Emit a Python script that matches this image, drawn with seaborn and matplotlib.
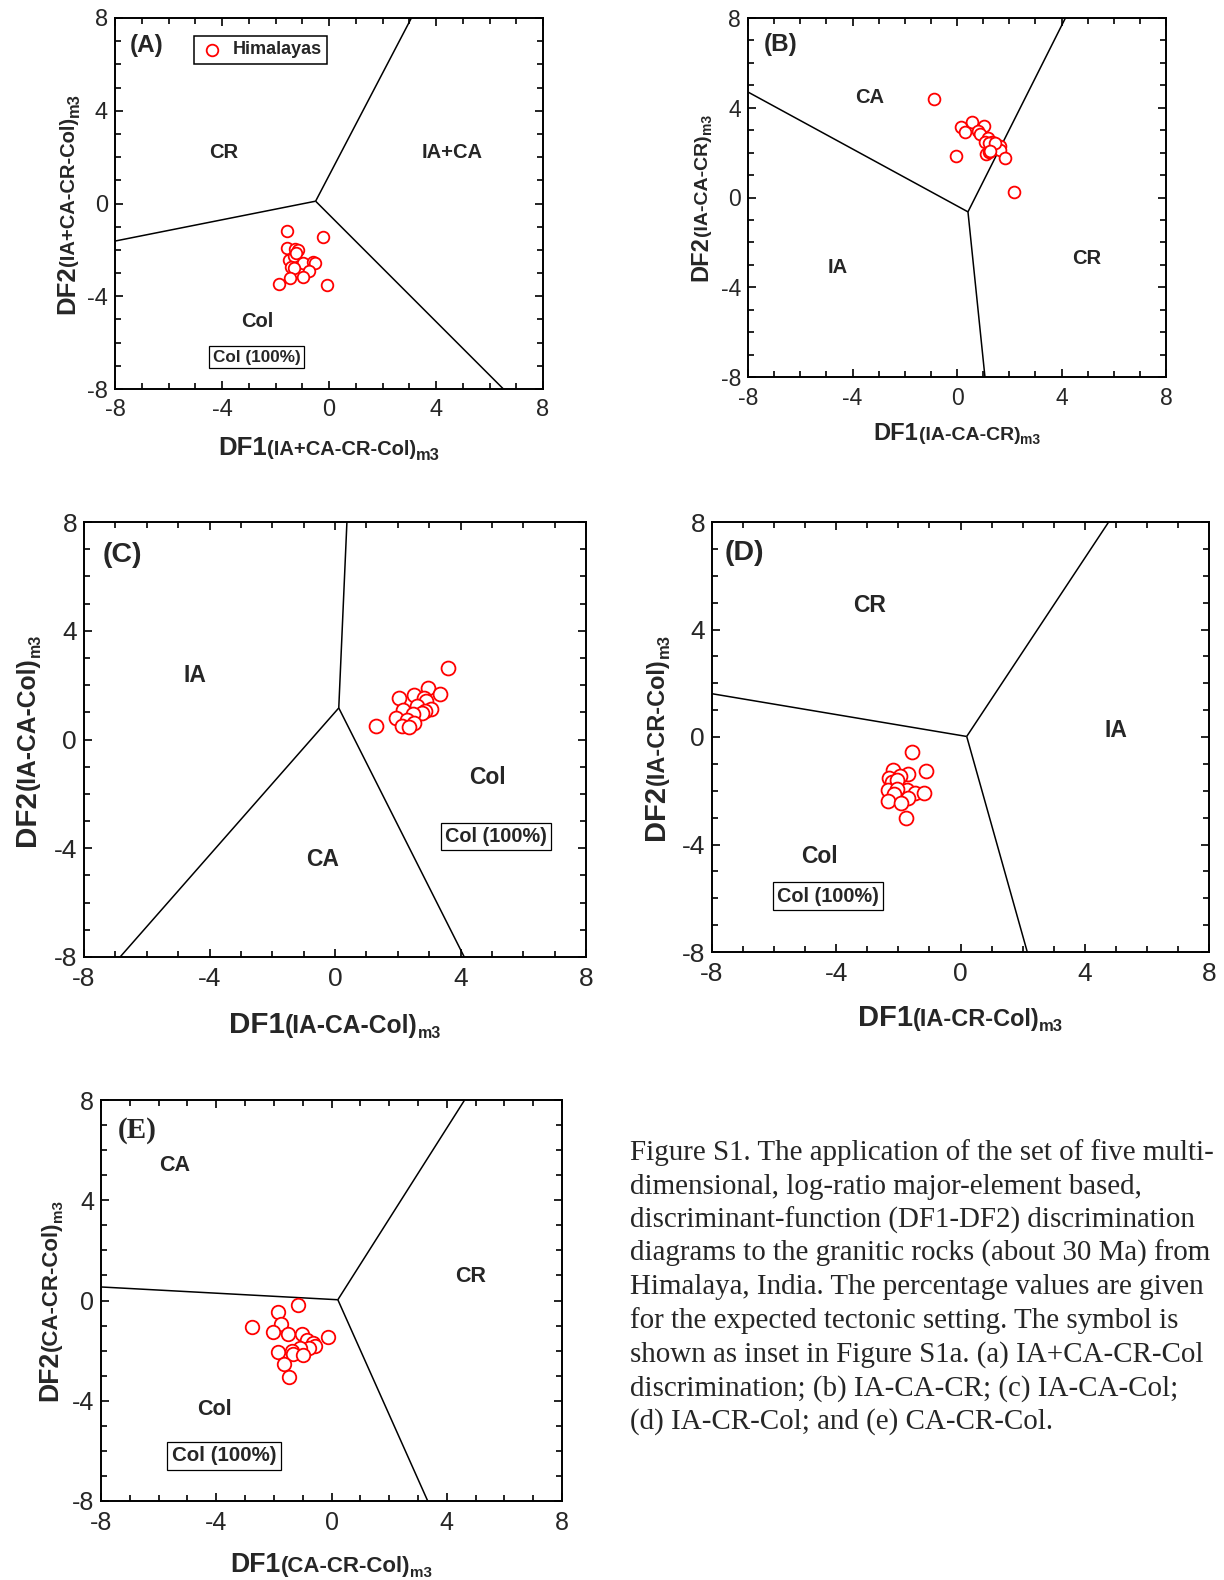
import matplotlib
matplotlib.use("Agg")
import matplotlib.pyplot as plt
import matplotlib.transforms as mtrans
from matplotlib.ticker import MultipleLocator
import numpy as np
import pandas as pd
import seaborn as sns

# ---------------- data ----------------
TICKS = [-8, -4, 0, 4, 8]
TICK_LABELS = ["-8", "-4", "0", "4", "8"]

A_DF1 = [-1.58, -0.21, -1.58, -1.26, -1.16, -1.51, -1.30, -0.97, -0.61, -0.51,
         -1.41, -1.30, -0.76, -0.97, -1.44, -1.87, -0.09, -1.23]
A_DF2 = [-1.19, -1.45, -1.93, -1.97, -2.00, -2.43, -2.28, -2.57, -2.51, -2.57,
         -2.72, -2.79, -2.89, -3.18, -3.23, -3.46, -3.51, -2.14]
A_VERTEX = [-0.50, 0.10]
A_ENDS_X = [-8.0, 3.08, 6.52]
A_ENDS_Y = [-1.62, 8.0, -8.0]

B_DF1 = [-0.88, 0.17, 0.30, 0.56, 1.05, 0.82, 0.89, 1.17, 1.06, 1.35,
         1.24, 1.63, 1.65, 1.10, 1.24, 1.82, -0.03, 2.17, 1.44, 1.28]
B_DF2 = [4.41, 3.13, 2.91, 3.38, 3.20, 2.97, 2.82, 2.66, 2.48, 2.46,
         2.43, 2.29, 2.11, 1.93, 2.03, 1.75, 1.87, 0.24, 2.44, 2.09]
B_VERTEX = [0.42, -0.64]
B_ENDS_X = [-8.0, 4.15, 1.07]
B_ENDS_Y = [4.70, 8.0, -8.0]

C_DF1 = [3.61, 2.96, 3.34, 2.51, 2.05, 2.85, 2.91, 2.60, 3.05, 2.18,
         2.88, 2.76, 2.49, 1.96, 2.29, 2.51, 2.12, 2.37, 1.32]
C_DF2 = [2.64, 1.90, 1.69, 1.65, 1.51, 1.52, 1.40, 1.22, 1.11, 1.10,
         1.03, 0.97, 0.94, 0.80, 0.73, 0.62, 0.48, 0.46, 0.51]
C_VERTEX = [0.12, 1.16]
C_ENDS_X = [0.38, -6.85, 4.12]
C_ENDS_Y = [8.0, -8.0, -8.0]

D_DF1 = [-1.57, -1.11, -2.16, -1.69, -1.95, -2.29, -2.22, -2.04, -1.73, -2.35,
         -2.04, -1.48, -1.17, -2.14, -1.69, -2.32, -1.91, -1.76]
D_DF2 = [-0.55, -1.27, -1.24, -1.39, -1.44, -1.54, -1.68, -1.60, -1.97, -1.97,
         -1.94, -2.07, -2.07, -2.13, -2.26, -2.37, -2.47, -3.03]
D_VERTEX = [0.20, 0.02]
D_ENDS_X = [-8.0, 4.77, 2.15]
D_ENDS_Y = [1.61, 8.0, -8.0]

E_DF1 = [-1.17, -1.84, -1.77, -2.77, -2.04, -1.51, -1.04, -0.84, -0.11, -0.64,
         -0.56, -0.78, -1.08, -1.86, -1.37, -1.33, -0.98, -1.64, -1.48]
E_DF2 = [-0.17, -0.47, -0.94, -1.06, -1.26, -1.33, -1.33, -1.59, -1.47, -1.70,
         -1.83, -1.90, -1.90, -2.06, -2.03, -2.12, -2.16, -2.52, -3.06]
E_VERTEX = [0.22, 0.03]
E_ENDS_X = [-8.0, 4.62, 3.34]
E_ENDS_Y = [0.54, 8.0, -8.0]

SERIES_NAME = "Himalayas"

CAPTION = [
    "Figure S1. The application of the set of five multi-",
    "dimensional, log-ratio major-element based,",
    "discriminant-function (DF1-DF2) discrimination",
    "diagrams to the granitic rocks (about 30 Ma) from",
    "Himalaya, India. The percentage values are given",
    "for the expected tectonic setting. The symbol is",
    "shown as inset in Figure S1a. (a) IA+CA-CR-Col",
    "discrimination; (b) IA-CA-CR; (c) IA-CA-Col;",
    "(d) IA-CR-Col; and (e) CA-CR-Col.",
]

# ---------------- layout / style ----------------
sns.set_style("ticks")
plt.rcParams["font.family"] = ["Liberation Sans", "DejaVu Sans"]
plt.rcParams["axes.unicode_minus"] = False

W_PX, H_PX = 1224, 1580
fig = plt.figure(figsize=(W_PX / 100, H_PX / 100), dpi=100)
fig.patch.set_facecolor("white")

PANELS = [
    dict(tag="(A)", serif=False, box_px=(115, 18, 543, 389),
         x=A_DF1, y=A_DF2, vertex=A_VERTEX, ends=(A_ENDS_X, A_ENDS_Y),
         sub="(IA+CA-CR-Col)", fs=(18.5, 14.5, 11.8), drop=4.5,
         xbase=455, ybase=74, tick=17, s=70,
         regions=[("CR", -3.94, 2.2), ("IA+CA", 4.62, 2.2), ("Col", -2.7, -5.1)],
         rfs=14.5, box=(-2.7, -6.62, 12.3), tagpos=(-6.8, 6.8, 17.5), legend=True),
    dict(tag="(B)", serif=False, box_px=(748, 18, 1166, 377),
         x=B_DF1, y=B_DF2, vertex=B_VERTEX, ends=(B_ENDS_X, B_ENDS_Y),
         sub="(IA-CA-CR)", fs=(17, 14, 10), drop=4.5,
         xbase=440, ybase=707, tick=16.5, s=72,
         regions=[("CA", -3.33, 4.47), ("IA", -4.58, -3.14), ("CR", 4.95, -2.74)],
         rfs=14.5, box=None, tagpos=(-6.75, 6.8, 17.5), legend=False),
    dict(tag="(C)", serif=False, box_px=(84, 522, 586, 957),
         x=C_DF1, y=C_DF2, vertex=C_VERTEX, ends=(C_ENDS_X, C_ENDS_Y),
         sub="(IA-CA-Col)", fs=(21.3, 17.7, 11.5), drop=5,
         xbase=1033, ybase=35, tick=19, s=100,
         regions=[("IA", -4.48, 2.37), ("Col", 4.85, -1.39), ("CA", -0.41, -4.4)],
         rfs=16.5, box=(5.13, -3.57, 14.3), tagpos=(-6.78, 6.8, 20.5), legend=False),
    dict(tag="(D)", serif=False, box_px=(712, 522, 1209, 952),
         x=D_DF1, y=D_DF2, vertex=D_VERTEX, ends=(D_ENDS_X, D_ENDS_Y),
         sub="(IA-CR-Col)", fs=(21, 16.9, 12), drop=5,
         xbase=1026, ybase=664, tick=19, s=100,
         regions=[("CR", -2.93, 4.9), ("IA", 5.0, 0.26), ("Col", -4.55, -4.45)],
         rfs=16.5, box=(-4.27, -5.92, 14.3), tagpos=(-6.95, 6.85, 20.5), legend=False),
    dict(tag="(E)", serif=True, box_px=(101, 1100, 562, 1501),
         x=E_DF1, y=E_DF2, vertex=E_VERTEX, ends=(E_ENDS_X, E_ENDS_Y),
         sub="(CA-CR-Col)", fs=(19.2, 16, 10.9), drop=5,
         xbase=1572, ybase=57, tick=18, s=95,
         regions=[("CA", -5.44, 5.4), ("CR", 4.84, 0.97), ("Col", -4.05, -4.36)],
         rfs=15.5, box=(-3.73, -6.19, 14.8), tagpos=(-6.74, 6.79, 21), legend=False),
]

axes = []
for p in PANELS:
    l, t, r, b = p["box_px"]
    ax = fig.add_axes([l / W_PX, 1 - b / H_PX, (r - l) / W_PX, (b - t) / H_PX])
    axes.append(ax)

    # boundary lines of the discrimination fields
    vx, vy = p["vertex"]
    for ex, ey in zip(*p["ends"]):
        ax.plot([vx, ex], [vy, ey], color="black", lw=1.1, zorder=2,
                solid_capstyle="butt")

    df = pd.DataFrame({"DF1": p["x"], "DF2": p["y"]})
    kw = dict(label=SERIES_NAME) if p["legend"] else {}
    sns.scatterplot(data=df, x="DF1", y="DF2", ax=ax, s=p["s"], marker="o",
                    color="white", edgecolor="red", linewidth=1.3, zorder=3,
                    legend=False, **kw)

    ax.set_xlim(-8, 8)
    ax.set_ylim(-8, 8)
    ax.set_xlabel("")
    ax.set_ylabel("")
    ax.set_xticks(TICKS)
    ax.set_xticklabels(TICK_LABELS)
    ax.set_yticks(TICKS)
    ax.set_yticklabels(TICK_LABELS)
    ax.xaxis.set_minor_locator(MultipleLocator(1))
    ax.yaxis.set_minor_locator(MultipleLocator(1))
    ax.tick_params(which="both", direction="in", top=True, right=True,
                   color="black", width=1.2)
    ax.tick_params(which="major", length=6, labelsize=p["tick"])
    ax.tick_params(which="minor", length=4)
    ax.tick_params(axis="x", which="major", pad=7)
    ax.tick_params(axis="y", which="major", pad=5)
    for sp in ax.spines.values():
        sp.set_visible(True)
        sp.set_color("black")
        sp.set_linewidth(1.4)
    ax.set_facecolor("white")

    for name, rx, ry in p["regions"]:
        ax.text(rx, ry, name, ha="center", va="center", fontsize=p["rfs"],
                fontweight="bold", zorder=4)
    if p["box"] is not None:
        bx, by, bfs = p["box"]
        ax.text(bx, by, "Col (100%)", ha="center", va="center", fontsize=bfs,
                fontweight="bold", zorder=4,
                bbox=dict(boxstyle="square,pad=0.22", fc="white", ec="black", lw=0.9))
    tx, ty, tfs = p["tagpos"]
    fam = ["Liberation Serif", "DejaVu Serif"] if p["serif"] else ["Liberation Sans", "DejaVu Sans"]
    ax.text(tx, ty, p["tag"], ha="center", va="center", fontsize=tfs,
            fontweight="bold", family=fam, zorder=4)

    if p["legend"]:
        ax_w = r - l
        ax_h = b - t
        leg = ax.legend(loc="upper left",
                        bbox_to_anchor=((194 - l) / ax_w, 1 - (36 - t) / ax_h),
                        borderaxespad=0, frameon=True, fancybox=False,
                        edgecolor="black", framealpha=1, borderpad=0.3,
                        handletextpad=0.45, handlelength=1.4,
                        prop=dict(weight="bold", size=13))
        leg.get_frame().set_linewidth(1.1)

# ---------------- compound axis titles (DF1 / DF2 with subscripts) ----------------
fig.canvas.draw()
renderer = fig.canvas.get_renderer()
ident = mtrans.IdentityTransform()


def chain_label(pieces, center, base, rotation):
    items = []
    for s, size, drop in pieces:
        t = fig.text(0, 0, s, fontsize=size, fontweight="bold", rotation=rotation,
                     rotation_mode="anchor", ha="left", va="baseline",
                     transform=ident)
        bb = t.get_window_extent(renderer)
        L = bb.width if rotation == 0 else bb.height
        items.append((t, drop, L))
    total = sum(i[2] for i in items)
    if rotation == 0:
        pos = center - total / 2
        for t, drop, L in items:
            t.set_position((pos, H_PX - base - drop))
            pos += L
    else:
        pos = (H_PX - center) - total / 2
        for t, drop, L in items:
            t.set_position((base + drop, pos))
            pos += L


for p in PANELS:
    l, t, r, b = p["box_px"]
    f1, f2, f3 = p["fs"]
    dr = p["drop"]
    chain_label([("DF1", f1, 0), (p["sub"], f2, 0), ("m3", f3, dr)],
                (l + r) / 2, p["xbase"], 0)
    chain_label([("DF2", f1, 0), (p["sub"], f2, 0), ("m3", f3, dr)],
                (t + b) / 2, p["ybase"], 90)

# ---------------- caption ----------------
serif = ["Liberation Serif", "DejaVu Serif"]
probe = fig.text(0, 0, CAPTION[0], fontsize=19, family=serif, transform=ident)
wprobe = probe.get_window_extent(renderer).width
probe.remove()
cap_fs = 19 * 586 / wprobe
for i, line in enumerate(CAPTION):
    fig.text(630, H_PX - (1160 + i * 33.6), line, fontsize=cap_fs, family=serif,
             ha="left", va="baseline", transform=ident)

fig.savefig("out.png", dpi=100, facecolor="white")
